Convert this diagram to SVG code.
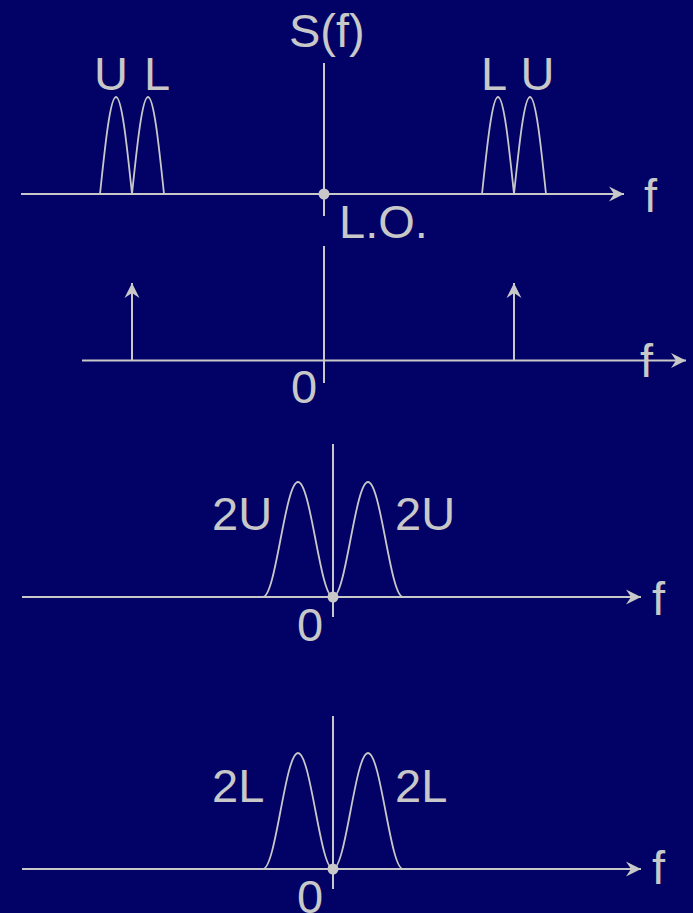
<svg xmlns="http://www.w3.org/2000/svg" width="693" height="913" viewBox="0 0 693 913">
<style>
.ln{stroke:#c8c8c8;stroke-width:2;fill:none}
.bp{stroke:#c8c8c8;stroke-width:1.8;fill:none}
.ax{stroke:#c8c8c8;stroke-width:2;fill:none;marker-end:url(#ah)}
.dot{fill:#c8c8c8}
text{font-family:"Liberation Sans",Arial,sans-serif;font-size:47px;fill:#c8c8c8}
</style>
<defs>
<marker id="ah" viewBox="-16 -8 17 16" markerWidth="17" markerHeight="16" refX="0" refY="0" orient="auto" markerUnits="userSpaceOnUse">
<path d="M0,0 L-15,-7.5 L-10,0 L-15,7.5 Z" fill="#c8c8c8"/>
</marker>
</defs>
<rect x="0" y="0" width="693" height="913" fill="#020266"/>

<g id="connectors">
<!-- panel 1 -->
<line class="ax" x1="21" y1="194" x2="624" y2="194"/>
<line class="ln" x1="324" y1="63" x2="324" y2="216"/>
<!-- panel 2 -->
<line class="ax" x1="82" y1="360.5" x2="686" y2="360.5"/>
<line class="ln" x1="324" y1="246" x2="324" y2="383"/>
<line class="ax" x1="132" y1="360" x2="132" y2="283"/>
<line class="ax" x1="514" y1="360" x2="514" y2="283"/>
<!-- panel 3 -->
<line class="ax" x1="22" y1="597" x2="641" y2="597"/>
<line class="ln" x1="333" y1="444" x2="333" y2="617"/>
<!-- panel 4 -->
<line class="ax" x1="22" y1="869" x2="641" y2="869"/>
<line class="ln" x1="333" y1="716" x2="333" y2="889"/>
</g>

<g id="panel1">
<path class="bp" d="M100,194 C105.2,144.3 110.2,97 116,97 C121.8,97 126.8,144.3 132,194"/>
<path class="bp" d="M132,194 C137.2,144.3 142.2,97 148,97 C153.8,97 158.8,144.3 164,194"/>
<path class="bp" d="M482,194 C487.2,144.3 492.2,97 498,97 C503.8,97 508.8,144.3 514,194"/>
<path class="bp" d="M514,194 C519.2,144.3 524.2,97 530,97 C535.8,97 540.8,144.3 546,194"/>
<circle class="dot" cx="324" cy="194" r="5.5"/>
<text x="289" y="47">S(f)</text>
<text x="94" y="90" word-spacing="3">U L</text>
<text x="481" y="90" word-spacing="2">L U</text>
<text x="644" y="212">f</text>
<text x="339" y="238">L.O.</text>
</g>

<g id="panel2">
<text x="640" y="377">f</text>
<text x="291" y="403">0</text>
</g>

<g id="panel3">
<path class="bp" d="M263,597 C275.95,597 285.05,482 298,482 C310.95,482 320.05,597 333,597"/>
<path class="bp" d="M333,597 C345.95,597 355.05,482 368,482 C380.95,482 390.05,597 403,597"/>
<circle class="dot" cx="333" cy="597" r="5.5"/>
<text x="212" y="530">2U</text>
<text x="395" y="530">2U</text>
<text x="297" y="641">0</text>
<text x="652" y="615">f</text>
</g>

<g id="panel4">
<path class="bp" d="M263,869 C275.95,869 285.05,753 298,753 C310.95,753 320.05,869 333,869"/>
<path class="bp" d="M333,869 C345.95,869 355.05,753 368,753 C380.95,753 390.05,869 403,869"/>
<circle class="dot" cx="333" cy="869" r="5.5"/>
<text x="212" y="802">2L</text>
<text x="395" y="802">2L</text>
<text x="297" y="913">0</text>
<text x="652" y="884">f</text>
</g>
</svg>
